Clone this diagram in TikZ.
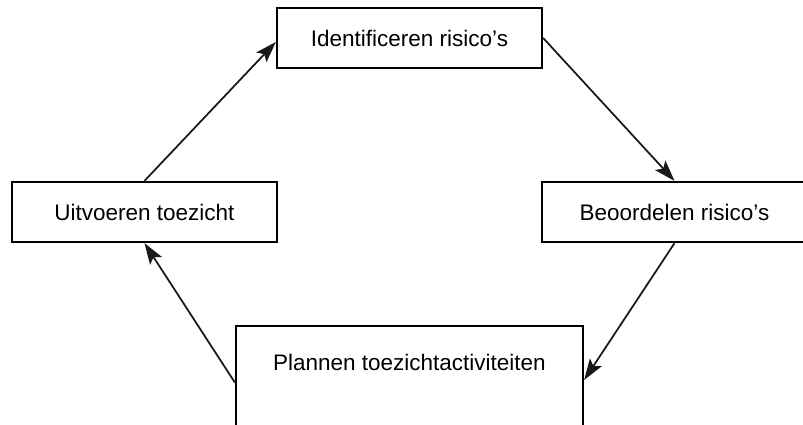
\documentclass[tikz,border=0pt]{standalone}
\usepackage{fontspec}
\setmainfont{Liberation Sans}
\usetikzlibrary{arrows.meta}
\tikzset{
    stapbox/.style={draw=black,line width=1.3pt,minimum width=5.3cm,minimum height=1.2cm,
        inner sep=0pt,font=\fontsize{12.8}{15}\selectfont},
    pijl/.style={draw=black!90,line width=1pt,-{Stealth[length=12pt,width=8pt,inset=2.5pt]}}
}
\begin{document}
\begin{tikzpicture}
    \useasboundingbox (0,0) rectangle (16.06,-8.5);
    % stappen in de cyclus
    \node[stapbox] (ident) at (8.19,-0.76) {Identificeren risico’s};
    \node[stapbox] (beoord) at (13.49,-4.24) {Beoordelen risico’s};
    \node[stapbox] (uitv) at (2.89,-4.24) {Uitvoeren toezicht};
    \node[stapbox,minimum width=6.94cm,anchor=north,inner ysep=0.56cm,text depth=2cm] (plan) at (8.19,-6.5) {Plannen toezichtactiviteiten};

    % pijlen rond
    \draw[pijl] (ident.east) -- (beoord.north);
    \draw[pijl] (beoord.south) -- ([yshift=-1.1cm]plan.north east);
    \draw[pijl] ([yshift=-1.15cm]plan.north west) -- (uitv.south);
    \draw[pijl] (uitv.north) -- ([yshift=-0.08cm]ident.west);
\end{tikzpicture}
\end{document}
